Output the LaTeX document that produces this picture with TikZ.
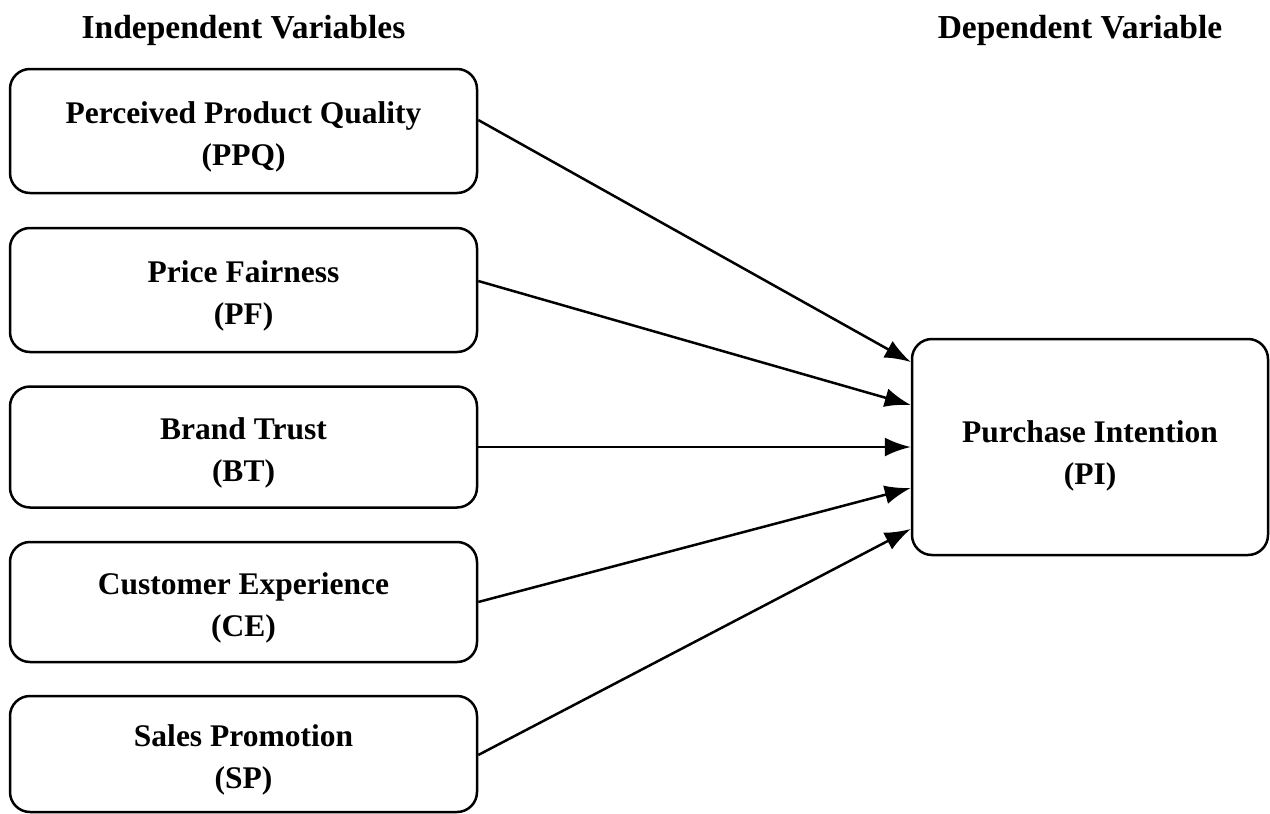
\documentclass[tikz,border=0pt]{standalone}
\usepackage{fontspec}
\setmainfont{Liberation Serif}
\usetikzlibrary{arrows.meta,calc}
\newcommand\liftA{\rule{0pt}{33pt}}
\newcommand\liftB{\rule{0pt}{40pt}}
\tikzset{
  varbox/.style={draw=black, line width=2.5pt, rounded corners=20pt, fill=white,
    align=center, font=\bfseries\fontsize{31.5}{42}\selectfont, inner sep=0pt},
  heading/.style={font=\bfseries\fontsize{33.5}{40}\selectfont, inner sep=0pt},
  link/.style={draw=black, line width=2.5pt, -{Latex[length=26pt,width=19pt]}}
}
\begin{document}
\begin{tikzpicture}[x=1pt,y=-1pt]
\useasboundingbox (0,0) rectangle (1270,814);
\node[heading] (hi) at (243.5,30) {Independent Variables};
\node[heading] (hd) at (1080,30) {Dependent Variable};
\node[varbox, minimum width=467pt, minimum height=124pt] (ppq) at (243.5,131) {\liftA Perceived Product Quality\\(PPQ)};
\node[varbox, minimum width=467pt, minimum height=124pt] (pf) at (243.5,290) {\liftA Price Fairness\\(PF)};
\node[varbox, minimum width=467pt, minimum height=121pt] (bt) at (243.5,447) {\liftA Brand Trust\\(BT)};
\node[varbox, minimum width=467pt, minimum height=120pt] (ce) at (243.5,602) {\liftA Customer Experience\\(CE)};
\node[varbox, minimum width=467pt, minimum height=116pt] (sp) at (243.5,754) {\liftA Sales Promotion\\(SP)};
\node[varbox, minimum width=356pt, minimum height=216pt] (pi) at (1090,447) {\liftB Purchase Intention\\(PI)};
\draw[link] ($(ppq.east)+(0,-11)$) -- ($(pi.west)+(0,-85)$);
\draw[link] ($(pf.east)+(0,-9)$) -- ($(pi.west)+(0,-42)$);
\draw[link] (bt.east) -- (pi.west);
\draw[link] (ce.east) -- ($(pi.west)+(0,41)$);
\draw[link] ($(sp.east)+(0,1)$) -- ($(pi.west)+(0,82)$);
\end{tikzpicture}
\end{document}
